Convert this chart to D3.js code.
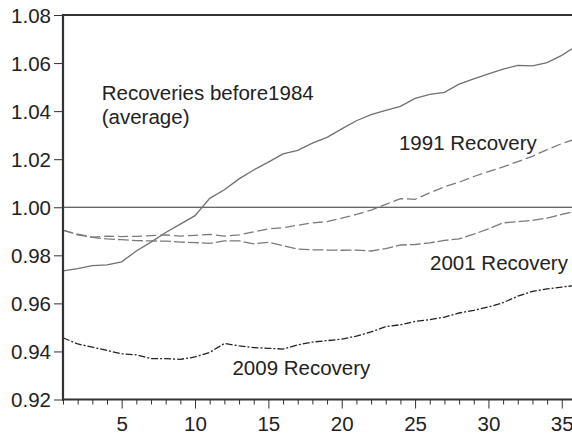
<!DOCTYPE html>
<html>
<head>
<meta charset="utf-8">
<script src="https://cdn.jsdelivr.net/npm/d3@7"></script>
<style>
  html, body { margin: 0; padding: 0; background: #fff; }
  svg { display: block; font-family: "Liberation Sans", Arial, sans-serif; }
</style>
</head>
<body>
<svg id="chart" width="572" height="437"></svg>
<script>
const months = d3.range(1, 37);
const pre1984 = [0.9735,0.9745,0.9757,0.9760,0.9773,0.9818,0.9855,0.9895,0.9930,0.9965,
  1.0037,1.0073,1.0118,1.0155,1.0188,1.0222,1.0237,1.0267,1.0291,1.0326,
  1.0360,1.0385,1.0403,1.0420,1.0453,1.0470,1.0478,1.0512,1.0534,1.0555,
  1.0575,1.0590,1.0588,1.0602,1.0632,1.0672];
const rec1991 = [0.9905,0.9888,0.9876,0.9880,0.9878,0.9879,0.9882,0.9885,0.9880,0.9883,
  0.9887,0.9880,0.9885,0.9898,0.9910,0.9915,0.9925,0.9935,0.9940,0.9955,
  0.9970,0.9988,1.0012,1.0036,1.0033,1.0060,1.0085,1.0104,1.0128,1.0148,
  1.0168,1.0190,1.0212,1.0240,1.0265,1.0285];
const rec2001 = [0.9905,0.9885,0.9875,0.9868,0.9865,0.9861,0.9860,0.9859,0.9855,0.9853,
  0.9850,0.9860,0.9860,0.9848,0.9854,0.9840,0.9826,0.9823,0.9822,0.9821,
  0.9822,0.9818,0.9828,0.9843,0.9845,0.9852,0.9862,0.9868,0.9888,0.9910,
  0.9935,0.9940,0.9945,0.9955,0.9970,0.9985];
const rec2009 = [0.9457,0.9431,0.9418,0.9404,0.9390,0.9386,0.9370,0.9370,0.9367,0.9377,
  0.9396,0.9433,0.9423,0.9416,0.9413,0.9410,0.9427,0.9439,0.9445,0.9451,
  0.9464,0.9481,0.9503,0.9511,0.9525,0.9532,0.9543,0.9560,0.9571,0.9585,
  0.9603,0.9630,0.9650,0.9660,0.9668,0.9675];
const yTicks = [0.92,0.94,0.96,0.98,1.00,1.02,1.04,1.06,1.08];
const xTicks = [5,10,15,20,25,30,35];
const labels = [
  {text: "Recoveries before1984", t: 3.64, v: 1.0446},
  {text: "(average)", t: 3.64, v: 1.0346},
  {text: "1991 Recovery", t: 23.9, v: 1.0238},
  {text: "2001 Recovery", t: 26.02, v: 0.9739},
  {text: "2009 Recovery", t: 12.55, v: 0.9302}
];

const svg = d3.select("#chart");
const mLeft = 63, mTop = 15, mBottom = 399.5;
const FS = 20.5;
const x = d3.scaleLinear().domain([1, 36]).range([mLeft, mLeft + 35 * 14.67]);
const y = d3.scaleLinear().domain([0.92, 1.08]).range([mBottom, mTop]);

// reference line at 1.00
svg.append("line").attr("x1", mLeft).attr("x2", 572)
  .attr("y1", y(1.0)).attr("y2", y(1.0))
  .attr("stroke", "#333").attr("stroke-width", 1.1);

const line = d3.line().x((d, i) => x(months[i])).y(d => y(d));
const series = [
  {data: pre1984, color: "#707070", dash: null, w: 1.3},
  {data: rec1991, color: "#7a7a7a", dash: "10,4", w: 1.3},
  {data: rec2001, color: "#7a7a7a", dash: "11,3", w: 1.3},
  {data: rec2009, color: "#222", dash: "7,2,2,2", w: 1.3}
];
series.forEach(s => {
  svg.append("path").attr("d", line(s.data)).attr("fill", "none")
    .attr("stroke", s.color).attr("stroke-width", s.w)
    .attr("stroke-dasharray", s.dash);
});

// axes
const yAxis = d3.axisLeft(y).tickValues(yTicks).tickFormat(d3.format(".2f")).tickSize(9).tickPadding(3);
const gy = svg.append("g").attr("transform", `translate(${mLeft},0)`).call(yAxis);
gy.select(".domain").remove();
gy.selectAll("text").attr("font-size", FS).attr("fill", "#222").attr("dy", "0.36em");
gy.selectAll("line").attr("stroke", "#333");

const xMinor = d3.axisBottom(x).tickValues(months.filter(m => m % 5 !== 0)).tickSize(5).tickFormat("");
const gxm = svg.append("g").attr("transform", `translate(0,${mBottom})`).call(xMinor);
gxm.select(".domain").remove();
gxm.selectAll("line").attr("stroke", "#333");

const xAxis = d3.axisBottom(x).tickValues(xTicks).tickSize(9).tickPadding(8);
const gx = svg.append("g").attr("transform", `translate(0,${mBottom})`).call(xAxis);
gx.select(".domain").remove();
gx.selectAll("text").attr("font-size", FS).attr("fill", "#222");
gx.selectAll("line").attr("stroke", "#333");

// frame: left, bottom, top
svg.append("line").attr("x1", mLeft).attr("x2", mLeft).attr("y1", mTop).attr("y2", mBottom + 1)
  .attr("stroke", "#333").attr("stroke-width", 2.2);
svg.append("line").attr("x1", mLeft - 1).attr("x2", 572).attr("y1", mBottom).attr("y2", mBottom)
  .attr("stroke", "#333").attr("stroke-width", 2.2);
svg.append("line").attr("x1", mLeft - 1).attr("x2", 572).attr("y1", mTop).attr("y2", mTop)
  .attr("stroke", "#333").attr("stroke-width", 2.2);

// annotations
svg.selectAll("text.ann").data(labels).enter().append("text")
  .attr("class", "ann")
  .attr("x", d => x(d.t)).attr("y", d => y(d.v))
  .attr("font-size", FS).attr("fill", "#222")
  .text(d => d.text);
</script>
</body>
</html>
